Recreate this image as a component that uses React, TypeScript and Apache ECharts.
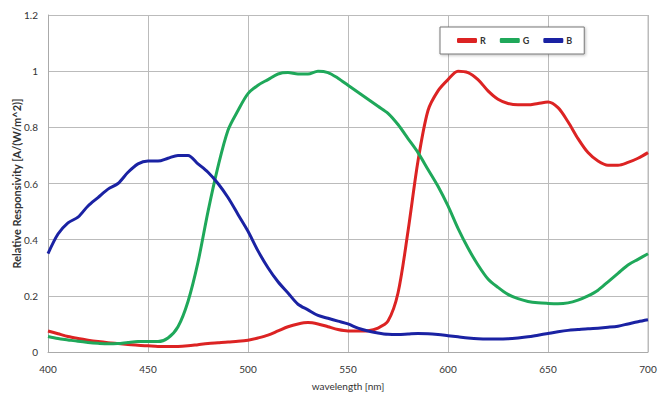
import React, { useEffect, useRef } from "react";
import * as echarts from "echarts";

const wavelengths = [
  400, 405, 410, 415, 420, 425, 430, 435, 440, 445, 450, 455, 460, 465, 470, 475, 480, 485, 490, 495,
  500, 505, 510, 515, 520, 525, 530, 535, 540, 545, 550, 555, 560, 565, 570, 575, 580, 585, 590, 595,
  600, 605, 610, 615, 620, 625, 630, 635, 640, 645, 650, 655, 660, 665, 670, 675, 680, 685, 690, 695, 700,
];

const redValues = [
  0.075, 0.065, 0.055, 0.048, 0.042, 0.037, 0.033, 0.03, 0.027, 0.024, 0.022, 0.02, 0.02, 0.02, 0.022, 0.026, 0.03, 0.033, 0.036, 0.038,
  0.042, 0.05, 0.06, 0.075, 0.09, 0.1, 0.105, 0.1, 0.09, 0.08, 0.075, 0.075, 0.076, 0.085, 0.11, 0.21, 0.43, 0.68, 0.86, 0.93,
  0.97, 1.0, 0.995, 0.97, 0.93, 0.9, 0.885, 0.88, 0.88, 0.885, 0.89, 0.87, 0.82, 0.76, 0.71, 0.68, 0.665, 0.665, 0.675, 0.69, 0.71,
];

const greenValues = [
  0.055, 0.048, 0.043, 0.038, 0.034, 0.031, 0.029, 0.03, 0.034, 0.037, 0.037, 0.037, 0.05, 0.09, 0.18, 0.32, 0.5, 0.66, 0.79, 0.86,
  0.92, 0.95, 0.97, 0.99, 0.995, 0.99, 0.99, 1.0, 0.995, 0.975, 0.95, 0.925, 0.9, 0.875, 0.85, 0.81, 0.76, 0.71, 0.65, 0.59,
  0.52, 0.44, 0.37, 0.31, 0.26, 0.23, 0.205, 0.19, 0.18, 0.175, 0.173, 0.172, 0.175, 0.185, 0.2, 0.22, 0.25, 0.28, 0.31, 0.33, 0.35,
];

const blueValues = [
  0.35, 0.42, 0.46, 0.48, 0.52, 0.55, 0.58, 0.6, 0.64, 0.67, 0.68, 0.68, 0.69, 0.7, 0.7, 0.67, 0.64, 0.6, 0.55, 0.49,
  0.43, 0.36, 0.3, 0.25, 0.21, 0.17, 0.15, 0.13, 0.12, 0.11, 0.1, 0.085, 0.075, 0.068, 0.063, 0.062, 0.064, 0.066, 0.065, 0.062,
  0.058, 0.054, 0.05, 0.047, 0.046, 0.046, 0.047, 0.05, 0.054, 0.06, 0.066, 0.072, 0.077, 0.08, 0.083, 0.085, 0.088, 0.092, 0.1, 0.108, 0.115,
];

const seriesNames = ["R", "G", "B"];
const seriesColors = ["#dc2323", "#1fa85a", "#1a22a3"];

const pair = (vals: number[]) => wavelengths.map((w, i) => [w, vals[i]]);

export default function App() {
  const ref = useRef<HTMLDivElement>(null);
  useEffect(() => {
    if (!ref.current) return;
    const chart = echarts.init(ref.current, null, { renderer: "svg" });
    const font = "Lato, 'Liberation Sans', sans-serif";
    const allVals = [redValues, greenValues, blueValues];
    chart.setOption({
      animation: false,
      backgroundColor: "#ffffff",
      textStyle: { fontFamily: font },
      grid: { left: 48, right: 16, top: 15, bottom: 47, containLabel: false, outerBoundsMode: "none" },
      legend: {
        left: 440,
        top: 27,
        data: seriesNames,
        icon: "roundRect",
        itemWidth: 20,
        itemHeight: 5,
        itemGap: 14,
        padding: [9, 12, 9, 17],
        borderColor: "#777",
        borderWidth: 1,
        backgroundColor: "#fff",
        shadowColor: "rgba(0,0,0,0.25)",
        shadowBlur: 3,
        shadowOffsetX: 1,
        shadowOffsetY: 1,
        textStyle: { fontSize: 9, fontWeight: "bold", color: "#333", fontFamily: font, padding: [0, 0, 0, -2] },
      },
      xAxis: {
        type: "value",
        min: 400,
        max: 700,
        interval: 50,
        name: "wavelength [nm]",
        nameLocation: "middle",
        nameGap: 29,
        nameMoveOverlap: false,
        nameTextStyle: { fontSize: 10, color: "#333", fontFamily: font },
        axisLine: { show: true, lineStyle: { color: "#aaa" } },
        axisTick: { show: false },
        axisLabel: { fontSize: 10, color: "#333", margin: 12, fontFamily: font },
        splitLine: { show: true, lineStyle: { color: "#bbb", width: 1 } },
      },
      yAxis: {
        type: "value",
        min: 0,
        max: 1.2,
        interval: 0.2,
        name: "Relative Responsivity [A/(W/m^2)]",
        nameLocation: "middle",
        nameGap: 26,
        nameMoveOverlap: false,
        nameRotate: 90,
        nameTextStyle: { fontSize: 11, fontWeight: "bold", color: "#333", fontFamily: font },
        axisLine: { show: true, lineStyle: { color: "#aaa" } },
        axisTick: { show: false },
        axisLabel: { fontSize: 10, color: "#333", margin: 10, fontFamily: font },
        splitLine: { show: true, lineStyle: { color: "#bbb", width: 1 } },
      },
      series: seriesNames.map((name, i) => ({
        name,
        type: "line",
        data: pair(allVals[i]),
        smooth: 0.3,
        showSymbol: false,
        symbol: "none",
        lineStyle: { color: seriesColors[i], width: 3 },
        itemStyle: { color: seriesColors[i] },
      })),
      graphic: [
        {
          type: "line",
          shape: { x1: 648, y1: 15, x2: 648, y2: 352 },
          style: { stroke: "#bbb", lineWidth: 1 },
          z: 0,
        },
      ],
    });
    return () => chart.dispose();
  }, []);
  return <div ref={ref} style={{ width: 664, height: 399, position: "absolute", left: 0, top: 0 }} />;
}
